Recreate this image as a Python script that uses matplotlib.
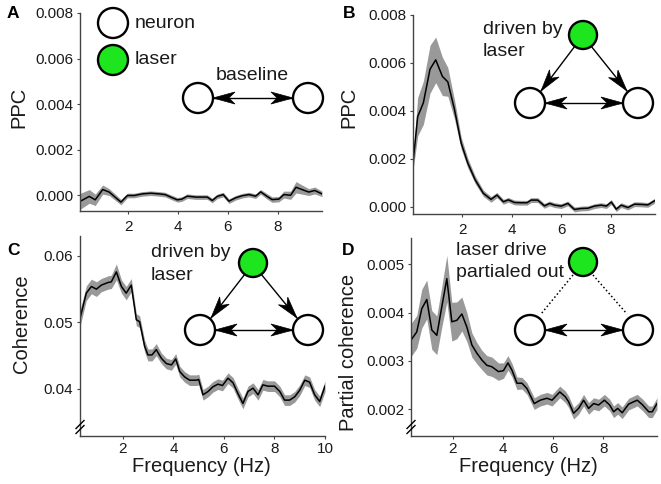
import numpy as np
import matplotlib
matplotlib.use("Agg")
import matplotlib.pyplot as plt
from matplotlib.patches import Circle, Polygon

plt.rcParams['font.family'] = ['Liberation Sans', 'DejaVu Sans']

# ---------------- data ----------------
freq_a = [0.07, 0.44, 0.68, 0.98, 1.24, 1.71, 1.97, 2.24, 2.57, 2.91, 3.24, 3.48, 3.77,
          3.97, 4.15, 4.37, 4.71, 5.04, 5.17, 5.37, 5.57, 5.81, 6.04, 6.31, 6.57, 6.84,
          7.11, 7.31, 7.57, 7.77, 8.04, 8.24, 8.51, 8.73, 8.97, 9.24, 9.48, 9.77]
ppc_a = [-0.00026, -0.00004, -0.00019, 0.00026, 0.00015, -0.00029, 0.0, 0.0, 0.00007,
         0.0001, 0.00007, 0.00004, -0.0001, -0.00019, -0.00016, -0.00003, -0.00007,
         -0.00007, -0.00007, -0.00022, -0.00004, 0.00004, -0.00025, -0.0001, -0.00001,
         0.00004, -0.00003, 0.00016, -0.00004, -0.00018, -0.00016, 0.00004, 0.00001,
         0.00036, 0.00026, 0.00015, 0.00022, 0.00007]
err_a = [0.00035, 0.0003, 0.00025, 0.0002, 0.00015, 0.00012, 0.0001, 0.0001, 0.0001,
         0.0001, 0.0001, 0.0001, 0.0001, 0.0001, 0.0001, 0.0001, 0.0001, 0.0001, 0.0001,
         0.0001, 0.0001, 0.0001, 0.0001, 0.0001, 0.0001, 0.0001, 0.0001, 0.0001, 0.00012,
         0.00012, 0.00012, 0.00015, 0.00018, 0.00025, 0.0002, 0.00015, 0.00015, 0.00012]

freq_b = [0.0, 0.19, 0.42, 0.69, 0.92, 1.19, 1.41, 1.68, 1.95, 2.22, 2.52, 2.85, 3.16,
          3.40, 3.66, 3.86, 4.11, 4.36, 4.62, 4.78, 5.05, 5.32, 5.53, 5.73, 6.0, 6.27,
          6.54, 6.81, 7.08, 7.35, 7.62, 7.83, 8.03, 8.23, 8.43, 8.7, 8.97, 9.25, 9.51, 9.78]
ppc_b = [0.00182, 0.00376, 0.00434, 0.00574, 0.00613, 0.00544, 0.00521, 0.00406, 0.00266,
         0.00182, 0.00112, 0.00056, 0.00031, 0.00049, 0.00021, 0.00029, 0.00018, 0.00017,
         0.00017, 0.00028, 0.00028, 0.00004, 0.00014, 0.00007, 0.00003, 0.00014, -0.00011,
         -0.00007, -0.00006, 0.00003, 0.00007, 0.00003, 0.0002, -0.0001, 0.00007, -0.00003,
         0.00011, 0.0001, 0.00008, 0.00025]
err_b = [0.0003, 0.0008, 0.0009, 0.001, 0.00095, 0.0008, 0.0006, 0.0004, 0.00025, 0.0002,
         0.00016, 0.00013, 0.00012, 0.00011, 0.0001, 0.0001, 0.0001, 0.0001, 0.0001, 0.0001,
         0.0001, 0.0001, 0.0001, 0.0001, 0.0001, 0.0001, 0.0001, 0.0001, 0.0001, 0.0001,
         0.0001, 0.0001, 0.0001, 0.0001, 0.0001, 0.0001, 0.0001, 0.0001, 0.0001, 0.0001]

freq_c = [0.3, 0.55, 0.75, 0.95, 1.14, 1.41, 1.54, 1.74, 1.94, 2.13, 2.33, 2.53, 2.66, 2.86,
          2.99, 3.15, 3.32, 3.52, 3.72, 3.92, 4.09, 4.25, 4.44, 4.64, 4.91, 5.0, 5.17, 5.37,
          5.56, 5.76, 5.94, 6.16, 6.36, 6.55, 6.75, 6.95, 7.15, 7.35, 7.54, 7.74, 8.0, 8.21,
          8.4, 8.6, 8.8, 9.0, 9.2, 9.39, 9.59, 9.79, 10.0]
coh_c = [0.0506, 0.0544, 0.0554, 0.0550, 0.0556, 0.0560, 0.0561, 0.0576, 0.0554, 0.0544,
         0.0556, 0.0504, 0.0501, 0.0464, 0.0451, 0.0451, 0.0459, 0.0446, 0.0438, 0.0436,
         0.0445, 0.0426, 0.0418, 0.0413, 0.0413, 0.0414, 0.0391, 0.0396, 0.0403, 0.0407,
         0.0405, 0.0416, 0.0409, 0.0393, 0.0378, 0.0396, 0.0401, 0.0391, 0.0406, 0.0404,
         0.0404, 0.0396, 0.0383, 0.0383, 0.0388, 0.0398, 0.0413, 0.0410, 0.0391, 0.0381,
         0.0404]
err_c = [0.0012, 0.0011, 0.0011, 0.0011, 0.001, 0.001, 0.001, 0.0012, 0.001, 0.001,
         0.001, 0.0009, 0.0009, 0.0009, 0.0009, 0.0009, 0.0009, 0.0008, 0.0008, 0.0008,
         0.0008, 0.0008, 0.0008, 0.0008, 0.0008, 0.0008, 0.0008, 0.0008, 0.0008, 0.0008,
         0.0008, 0.0008, 0.0008, 0.0008, 0.0008, 0.0008, 0.0008, 0.0008, 0.0008, 0.0008,
         0.0008, 0.0008, 0.0008, 0.0008, 0.0008, 0.0008, 0.0008, 0.0008, 0.0008, 0.0008,
         0.0008]

freq_d = [0.33, 0.56, 0.76, 0.96, 1.16, 1.36, 1.56, 1.76, 1.96, 2.16, 2.36, 2.56, 2.76,
          2.96, 3.16, 3.36, 3.56, 3.82, 4.02, 4.2, 4.36, 4.56, 4.76, 4.96, 5.25, 5.49,
          5.76, 5.96, 6.27, 6.49, 6.62, 6.82, 7.02, 7.22, 7.42, 7.62, 7.82, 8.05, 8.26,
          8.42, 8.58, 8.76, 9.02, 9.36, 9.56, 9.82, 9.96, 10.15]
pcoh_d = [0.00343, 0.0036, 0.00408, 0.00427, 0.00364, 0.00353, 0.00412, 0.0047, 0.00381,
          0.00384, 0.00397, 0.0037, 0.00333, 0.00316, 0.00302, 0.00291, 0.00288, 0.00278,
          0.0028, 0.00296, 0.00281, 0.00254, 0.00254, 0.00243, 0.00212, 0.00219, 0.00223,
          0.00219, 0.00236, 0.00226, 0.00216, 0.00192, 0.00202, 0.00219, 0.00202, 0.00212,
          0.00209, 0.00219, 0.00209, 0.00195, 0.00202, 0.00193, 0.00211, 0.00219, 0.0021,
          0.00195, 0.00195, 0.00212]
err_d = [0.00034, 0.00034, 0.0004, 0.0004, 0.0004, 0.0004, 0.00042, 0.00048, 0.0004,
         0.00038, 0.00035, 0.0003, 0.00025, 0.00022, 0.0002, 0.0002, 0.0002, 0.00018,
         0.00016, 0.00015, 0.00014, 0.00013, 0.00012, 0.00012, 0.00012, 0.00012, 0.00012,
         0.00012, 0.00012, 0.00012, 0.00012, 0.00012, 0.00012, 0.00012, 0.00012, 0.00012,
         0.00012, 0.00012, 0.00012, 0.00012, 0.00012, 0.00012, 0.00012, 0.00012, 0.00012,
         0.00012, 0.00012, 0.00012]

ticks_ppc = [0.0, 0.002, 0.004, 0.006, 0.008]
ticks_coh = [0.04, 0.05, 0.06]
ticks_pcoh = [0.002, 0.003, 0.004, 0.005]

# ---------------- figure ----------------
W, H = 661, 484
fig = plt.figure(figsize=(W / 100, H / 100), dpi=100)

GREEN = '#1ee61e'
BAND = '#999999'
SPINE = '#444444'
TXT = '#1a1a1a'


def box(l, t, r, b):
    return [l / W, 1 - b / H, (r - l) / W, (b - t) / H]


def make_ax(rect, x, y, e, xlim, ylim, xticks, yticks, yfmt, ylabel, ylab_px,
            xpad, xlabel=None, xlab_px=None):
    l, t, r, b = rect
    ax = fig.add_axes(box(l, t, r, b))
    x = np.asarray(x); y = np.asarray(y); e = np.asarray(e)
    ax.fill_between(x, y - e, y + e, color=BAND, lw=0)
    ax.plot(x, y, color='black', lw=1.1)
    ax.set_xlim(*xlim)
    ax.set_ylim(*ylim)
    ax.set_xticks(xticks)
    ax.set_yticks(yticks)
    ax.set_yticklabels([yfmt % v for v in yticks])
    for s in ['top', 'right']:
        ax.spines[s].set_visible(False)
    for s in ['left', 'bottom']:
        ax.spines[s].set_color(SPINE)
        ax.spines[s].set_linewidth(1.0)
    ax.tick_params(axis='both', length=2.5, width=0.8, color=SPINE, labelsize=11,
                   labelcolor=TXT)
    ax.tick_params(axis='x', pad=xpad)
    ax.tick_params(axis='y', pad=2.5)
    ax.set_ylabel(ylabel, fontsize=14.5, color=TXT, ha='center', va='center')
    ax.yaxis.set_label_coords((ylab_px[0] - l) / (r - l), (b - ylab_px[1]) / (b - t))
    if xlabel:
        ax.set_xlabel(xlabel, fontsize=14.5, color=TXT, ha='center', va='center')
        ax.xaxis.set_label_coords((xlab_px[0] - l) / (r - l), (b - xlab_px[1]) / (b - t))
    return ax


axA = make_ax((80, 13, 322, 211), freq_a, ppc_a, err_a, (0.07, 9.77), (-0.00068, 0.008),
              [2, 4, 6, 8], ticks_ppc, '%.3f', 'PPC', (18.5, 107), 4)
axB = make_ax((413, 15, 655, 214), freq_b, ppc_b, err_b, (0.0, 9.8), (-0.0003, 0.008),
              [2, 4, 6, 8], ticks_ppc, '%.3f', 'PPC', (349, 107), 4)
axC = make_ax((80, 236, 325, 436), freq_c, coh_c, err_c, (0.3, 10.0), (0.0329, 0.063),
              [2, 4, 6, 8, 10], ticks_coh, '%.2f', 'Coherence', (21.5, 324), 1.5,
              'Frequency (Hz)', (201.7, 467))
axD = make_ax((411, 238, 657, 436), freq_d, pcoh_d, err_d, (0.33, 10.15), (0.00145, 0.00554),
              [2, 4, 6, 8], ticks_pcoh, '%.3f', 'Partial coherence', (349, 352), 1.5,
              'Frequency (Hz)', (528.3, 467))

# ---------------- overlay for diagrams ----------------
ov = fig.add_axes([0, 0, 1, 1], zorder=10)
ov.set_xlim(0, W)
ov.set_ylim(H, 0)
ov.axis('off')
ov.patch.set_alpha(0)


def circ(cx, cy, r, fc='white'):
    ov.add_patch(Circle((cx, cy), r, facecolor=fc, edgecolor='black', lw=1.7, zorder=5))


def head(tip, frm, L=22, Wd=12, notch=0.72):
    tip = np.asarray(tip, float); frm = np.asarray(frm, float)
    d = (tip - frm) / np.linalg.norm(tip - frm)
    n = np.array([-d[1], d[0]])
    pts = [tip, tip - L * d + Wd / 2 * n, tip - notch * L * d, tip - L * d - Wd / 2 * n]
    ov.add_patch(Polygon(pts, closed=True, facecolor='black', edgecolor='black', lw=0.5, zorder=4))


def arrow(p0, p1, double=False):
    ov.plot([p0[0], p1[0]], [p0[1], p1[1]], color='black', lw=1.0, zorder=3)
    head(p1, p0)
    if double:
        head(p0, p1)


def brk(x, y):
    for dy in (-2.5, 2.5):
        ov.plot([x - 4, x + 4], [y + dy + 4, y + dy - 4], color='black', lw=1.0, zorder=6)


tfont = dict(fontsize=14, color=TXT)

# panel A
circ(113, 23, 15)
circ(113, 60, 15, GREEN)
ov.text(135, 23, 'neuron', ha='left', va='center', **tfont)
ov.text(135, 60, 'laser', ha='left', va='center', **tfont)
ov.text(252, 75.5, 'baseline', ha='center', va='center', **tfont)
circ(198, 98, 15)
circ(308, 98, 15)
arrow((213, 98), (293, 98), double=True)

# panel B
ov.text(483, 33.5, 'driven by', ha='left', va='baseline', **tfont)
ov.text(483, 55.5, 'laser', ha='left', va='baseline', **tfont)
circ(583, 35, 14, GREEN)
circ(530, 103, 15)
circ(638, 103, 15)
arrow((575, 46), (541, 91))
arrow((591, 46), (627, 91))
arrow((545, 103), (623, 103), double=True)

# panel C
ov.text(151, 257, 'driven by', ha='left', va='baseline', **tfont)
ov.text(151, 279.5, 'laser', ha='left', va='baseline', **tfont)
circ(253, 263, 14, GREEN)
circ(200, 330, 15)
circ(308, 330, 15)
arrow((245, 274), (211, 318))
arrow((261, 274), (297, 318))
arrow((215, 330), (293, 330), double=True)

# panel D
ov.text(456, 255, 'laser drive', ha='left', va='baseline', **tfont)
ov.text(456, 277, 'partialed out', ha='left', va='baseline', **tfont)
circ(583, 262, 14, GREEN)
circ(530, 330, 15)
circ(638, 330, 15)
ov.plot([573, 541], [275, 314], color='black', lw=1.1, ls=(0, (1, 1.6)), zorder=3)
ov.plot([593, 627], [275, 314], color='black', lw=1.1, ls=(0, (1, 1.6)), zorder=3)
arrow((545, 330), (623, 330), double=True)

# axis breaks
brk(80, 427)
brk(411, 427)

# panel letters
lfont = dict(fontsize=12.5, fontweight='bold', color='black', va='baseline', ha='left')
ov.text(7, 18, 'A', **lfont)
ov.text(343, 18, 'B', **lfont)
ov.text(7, 255, 'C', **lfont)
ov.text(342, 255, 'D', **lfont)

fig.savefig('out.png', dpi=100)
